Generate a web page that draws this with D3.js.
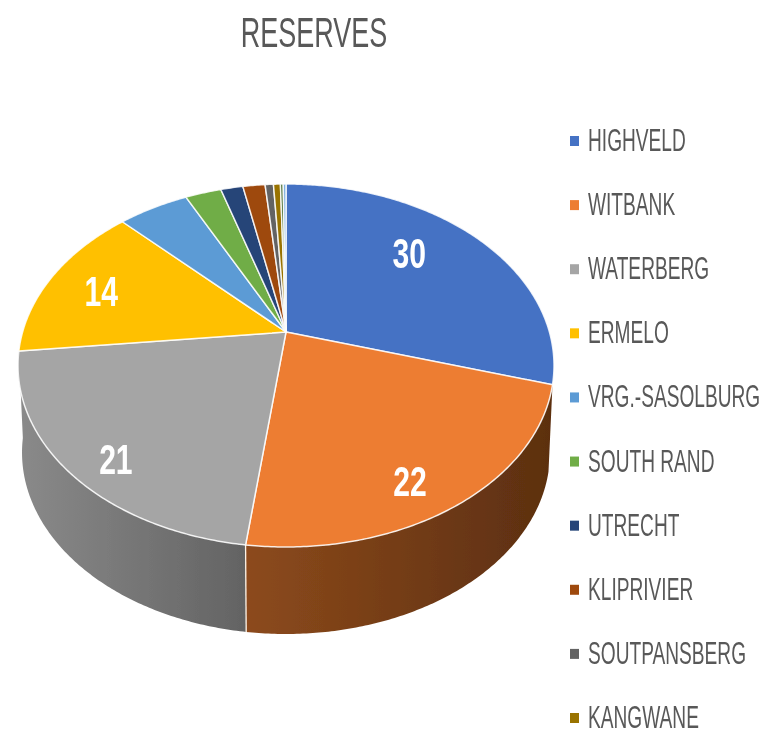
<!DOCTYPE html>
<html>
<head>
<meta charset="utf-8">
<script src="https://cdn.jsdelivr.net/npm/d3@7"></script>
<style>
  html, body { margin: 0; padding: 0; background: #fff; }
  text { font-family: "Liberation Sans Narrow", "Liberation Sans", sans-serif; }
</style>
</head>
<body>
<div id="chart"></div>
<script>
const categories = ["HIGHVELD", "WITBANK", "WATERBERG", "ERMELO", "VRG.-SASOLBURG", "SOUTH RAND", "UTRECHT", "KLIPRIVIER", "SOUTPANSBERG", "KANGWANE", "", ""];
const reserves = [29.6, 22.4, 21.3, 14.3, 5.1, 2.6, 1.6, 1.6, 0.6, 0.5, 0.2, 0.2];
const colors = ["#4472c4", "#ed7d31", "#a5a5a5", "#ffc000", "#5b9bd5", "#70ad47", "#264478", "#9e480e", "#636363", "#997300", "#43682b", "#7cafdd"];

const width = 765, height = 734;
const depth = 87;

const svg = d3.select("#chart").append("svg")
    .attr("width", width)
    .attr("height", height);

const defs = svg.append("defs");
defs.append("filter").attr("id", "soft")
    .append("feGaussianBlur").attr("stdDeviation", 0.5);

const root = svg.append("g").attr("filter", "url(#soft)");

// Tilted disc: the excel 3D pie has its apex above the middle of the ellipse
const cx = 286, cy = 332, rx = 263.4, ry = 175.3, k = -0.1846;
function project(angle, r) {
    const u = Math.sin(angle) * r, v = -Math.cos(angle) * r;
    const w = 1 + k * v;
    return [cx + rx * u / w, cy + ry * v / w];
}

function rimPoints(a0, a1) {
    const n = Math.max(2, Math.ceil((a1 - a0) / 0.01));
    return d3.range(n + 1).map(i => project(a0 + (a1 - a0) * i / n, 1));
}

// lower rim sits a bit narrower than the top one
function lowerRim(p) {
    return [cx + (p[0] - cx) * 0.985, p[1] + depth];
}

const pie = d3.pie().sort(null)(reserves);
const line = d3.line();

// Only Witbank and Waterberg show a side wall
const walls = [
    {slice: 1, x0: 247, x1: 553, from: "#8c4a1c", to: "#5c2f10"},
    {slice: 2, x0: 18, x1: 247, from: "#8a8a8a", to: "#636363"}
];
walls.forEach(w => {
    const d = pie[w.slice];
    const grad = defs.append("linearGradient")
        .attr("id", "wall" + w.slice)
        .attr("gradientUnits", "userSpaceOnUse")
        .attr("x1", w.x0).attr("x2", w.x1).attr("y1", 0).attr("y2", 0);
    grad.append("stop").attr("offset", 0).attr("stop-color", w.from);
    grad.append("stop").attr("offset", 1).attr("stop-color", w.to);

    const top = rimPoints(d.startAngle, d.endAngle);
    const bottom = top.map(lowerRim).reverse();
    root.append("path")
        .attr("d", line(top.concat(bottom)) + "Z")
        .attr("fill", `url(#wall${w.slice})`);
});

// Edge between Witbank and Waterberg on the wall
const edge = project(pie[2].startAngle, 1);
const edgeLow = lowerRim(edge);
root.append("line")
    .attr("x1", edge[0]).attr("y1", edge[1])
    .attr("x2", edgeLow[0]).attr("y2", edgeLow[1])
    .attr("stroke", "#fff3e6")
    .attr("stroke-width", 1.3);

// Top surface
pie.forEach((d, i) => {
    root.append("path")
        .attr("d", line([[cx, cy]].concat(rimPoints(d.startAngle, d.endAngle))) + "Z")
        .attr("fill", colors[i])
        .attr("stroke", "#fff")
        .attr("stroke-opacity", 0.85)
        .attr("stroke-width", 1.5)
        .attr("stroke-linejoin", "round");
});

// Data labels, only the four big slices carry one
const labelOffsets = [[-23, -7], [2, 24], [-14, 25], [-7, 1]];
labelOffsets.forEach((off, i) => {
    const d = pie[i];
    const p = project((d.startAngle + d.endAngle) / 2, 0.75);
    root.append("text")
        .attr("transform", `translate(${p[0] + off[0]},${p[1] + off[1]}) scale(0.86,1.2)`)
        .attr("text-anchor", "middle")
        .attr("dy", "0.36em")
        .attr("font-size", 35)
        .attr("font-weight", "bold")
        .attr("fill", "#fff")
        .text(Math.round(d.value));
});

// Title
root.append("text")
    .attr("transform", "translate(314,47) scale(0.71,1.14)")
    .attr("text-anchor", "middle")
    .attr("font-size", 38)
    .attr("fill", "#595959")
    .text("RESERVES");

// Legend
const legendY = d3.scalePoint()
    .domain(categories.slice(0, 10))
    .range([141, 718]);

const legend = root.selectAll(".legend")
    .data(categories.slice(0, 10))
    .join("g")
    .attr("class", "legend")
    .attr("transform", d => `translate(570,${legendY(d)})`);

legend.append("rect")
    .attr("x", 0).attr("y", -5)
    .attr("width", 9).attr("height", 10)
    .attr("fill", (d, i) => colors[i]);

legend.append("text")
    .attr("transform", "translate(18,10) scale(0.66,1.06)")
    .attr("font-size", 29)
    .attr("fill", "#595959")
    .text(d => d);
</script>
</body>
</html>
